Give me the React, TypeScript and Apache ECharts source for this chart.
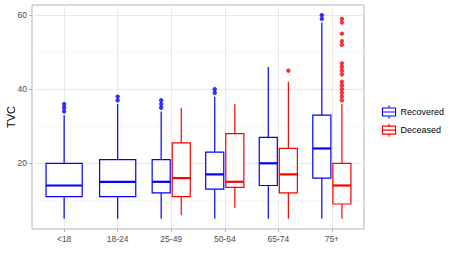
import React, { useEffect, useRef } from "react";
import * as echarts from "echarts";

const categories = ["<18", "18-24", "25-49", "50-64", "65-74", "75+"];
const groups = ["Recovered", "Deceased"];
const groupColors = ["#0000ff", "#ff0000"];

// [lowerWhisker, q1, median, q3, upperWhisker] per category (null = no data)
const recoveredStats: (number[] | null)[] = [
  [5, 11, 14, 20, 33],
  [5, 11, 15, 21, 36],
  [5, 12, 15, 21, 34],
  [5, 13, 17, 23, 38],
  [5, 14, 20, 27, 46],
  [5, 16, 24, 33, 58],
];
const deceasedStats: (number[] | null)[] = [
  null,
  null,
  [6, 11, 16, 25.5, 35],
  [8, 13.5, 15, 28, 36],
  [5, 12, 17, 24, 42],
  [5, 9, 14, 20, 36],
];
const recoveredOutliers: number[][] = [
  [34, 35, 36],
  [37, 38],
  [35, 36, 37],
  [39, 40],
  [],
  [59, 60],
];
const deceasedOutliers: number[][] = [
  [],
  [],
  [],
  [],
  [45],
  [37, 38, 39, 40, 41, 42, 44, 45, 46, 47, 52, 53, 55, 58, 59],
];
const yMajorTicks = [20, 40, 60];
const yMinorGrid = [10, 30, 50];

const FONT = "'Liberation Sans', Arial, Helvetica, sans-serif";

export default function App() {
  const ref = useRef<HTMLDivElement>(null);
  useEffect(() => {
    if (!ref.current) return;
    const chart = echarts.init(ref.current, null, { renderer: "svg" });
    const statsList = [recoveredStats, deceasedStats];
    const outlierList = [recoveredOutliers, deceasedOutliers];
    const dodge = 0.75;

    const layout = (g: number, i: number) => {
      const present = statsList.map((s) => s[i] != null);
      const n = present.filter(Boolean).length;
      let k = 0;
      for (let j = 0; j < g; j++) if (present[j]) k++;
      const slot = dodge / n;
      const offset = (k - (n - 1) / 2) * slot;
      return { x: i + 1 + offset, hw: (0.9 * slot) / 2 };
    };

    const boxSeries = groups.map((name, g) => {
      const data: number[][] = [];
      statsList[g].forEach((st, i) => {
        if (!st) return;
        const { x, hw } = layout(g, i);
        data.push([x, ...st, hw]);
      });
      const color = groupColors[g];
      return {
        name,
        type: "custom",
        z: 3,
        data,
        encode: { x: 0, y: [1, 2, 3, 4, 5] },
        renderItem: (params: any, api: any) => {
          const x = api.value(0);
          const pLo = api.coord([x, api.value(1)]);
          const pQ1 = api.coord([x, api.value(2)]);
          const pMed = api.coord([x, api.value(3)]);
          const pQ3 = api.coord([x, api.value(4)]);
          const pHi = api.coord([x, api.value(5)]);
          const w = api.size([api.value(6), 0])[0];
          const xc = pLo[0];
          const stroke = { stroke: color, lineWidth: 1.2, fill: null };
          return {
            type: "group",
            children: [
              { type: "line", shape: { x1: xc, y1: pLo[1], x2: xc, y2: pQ1[1] }, style: stroke },
              { type: "line", shape: { x1: xc, y1: pQ3[1], x2: xc, y2: pHi[1] }, style: stroke },
              {
                type: "rect",
                shape: { x: xc - w, y: pQ3[1], width: 2 * w, height: pQ1[1] - pQ3[1] },
                style: { fill: "#ffffff", stroke: color, lineWidth: 1.2 },
              },
              {
                type: "line",
                shape: { x1: xc - w, y1: pMed[1], x2: xc + w, y2: pMed[1] },
                style: { stroke: color, lineWidth: 2.2 },
              },
            ],
          };
        },
      };
    });

    const outlierSeries = groups.map((name, g) => {
      const data: number[][] = [];
      outlierList[g].forEach((vals, i) => {
        if (!statsList[g][i]) return;
        const { x } = layout(g, i);
        vals.forEach((v) => data.push([x, v]));
      });
      return {
        name,
        type: "scatter",
        z: 4,
        data,
        symbol: "circle",
        symbolSize: 4.4,
        itemStyle: { color: groupColors[g] },
      };
    });

    const gridLineSeries = {
      type: "scatter",
      z: 1,
      silent: true,
      data: [],
      markLine: {
        z: 1,
        silent: true,
        symbol: "none",
        label: { show: false },
        animation: false,
        data: [
          ...yMinorGrid.map((v) => ({ yAxis: v, lineStyle: { color: "#f3f3f3", width: 0.6, type: "solid" } })),
          ...yMajorTicks.map((v) => ({ yAxis: v, lineStyle: { color: "#e8e8e8", width: 1, type: "solid" } })),
          ...categories.map((_, i) => ({ xAxis: i + 1, lineStyle: { color: "#e8e8e8", width: 1, type: "solid" } })),
        ],
      },
    };

    const iconPath =
      "path://M6.5,0 L6.5,2.5 M0,2.5 L13,2.5 L13,10.5 L0,10.5 Z M0,6.5 L13,6.5 M6.5,10.5 L6.5,13";

    chart.setOption({
      animation: false,
      textStyle: { fontFamily: FONT },
      grid: {
        left: 32,
        right: 91,
        top: 5,
        bottom: 32,
        containLabel: false,
        outerBoundsMode: "none",
        show: true,
        borderColor: "#b3b3b3",
        borderWidth: 1,
        backgroundColor: "transparent",
      },
      legend: {
        left: 382,
        top: 105,
        padding: 0,
        orient: "vertical",
        itemWidth: 13,
        itemHeight: 13,
        itemGap: 4,
        textStyle: { fontFamily: FONT, fontSize: 9, color: "#000" },
        data: groups.map((name, g) => ({
          name,
          icon: iconPath,
          itemStyle: { color: "#ffffff", borderColor: groupColors[g], borderWidth: 1.1 },
        })),
      },
      xAxis: {
        type: "value",
        min: 0.4,
        max: 6.6,
        axisLine: { show: false },
        splitLine: { show: false },
        axisTick: {
          show: true,
          length: 3,
          customValues: categories.map((_, i) => i + 1),
          lineStyle: { color: "#b3b3b3" },
        },
        axisLabel: {
          customValues: categories.map((_, i) => i + 1),
          formatter: (v: number) => categories[Math.round(v) - 1] ?? "",
          fontSize: 8.5,
          color: "#4d4d4d",
          margin: 5,
          fontFamily: FONT,
        },
      },
      yAxis: {
        type: "value",
        min: 2.25,
        max: 62.75,
        name: "TVC",
        nameLocation: "middle",
        nameRotate: 90,
        nameGap: 16,
        nameMoveOverlap: false,
        nameTextStyle: { fontSize: 11, color: "#000", fontFamily: FONT },
        axisLine: { show: false },
        splitLine: { show: false },
        axisTick: {
          show: true,
          length: 3,
          customValues: yMajorTicks,
          lineStyle: { color: "#b3b3b3" },
        },
        axisLabel: {
          customValues: yMajorTicks,
          fontSize: 8.5,
          color: "#4d4d4d",
          margin: 5,
          fontFamily: FONT,
        },
      },
      series: [gridLineSeries, ...boxSeries, ...outlierSeries],
    });
    return () => chart.dispose();
  }, []);
  return (
    <div
      ref={ref}
      style={{ position: "fixed", left: 0, top: 0, width: 455, height: 261, background: "#fff" }}
    />
  );
}
